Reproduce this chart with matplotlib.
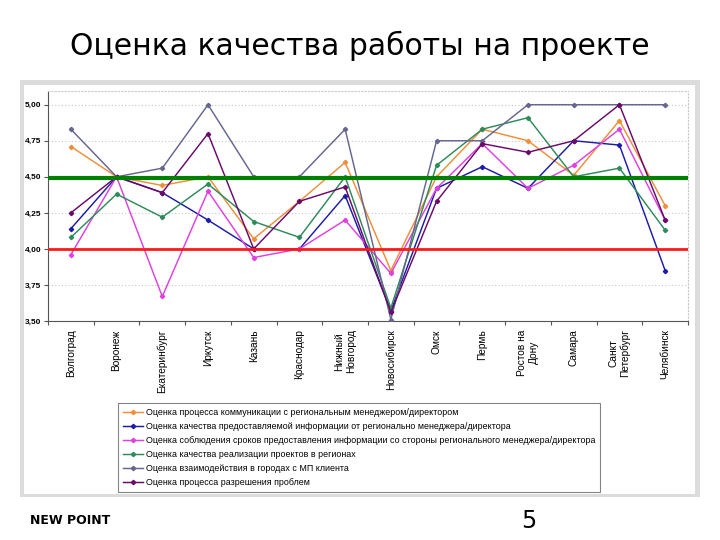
import matplotlib.pyplot as plt
from matplotlib.patches import Rectangle

plt.rcParams['font.family'] = ['Liberation Sans', 'DejaVu Sans']

cities = ["Волгоград", "Воронеж", "Екатеринбург", "Иркутск", "Казань", "Краснодар",
          "Нижный\nНовгород", "Новосибирск", "Омск", "Пермь", "Ростов на\nДону",
          "Самара", "Санкт\nПетербург", "Челябинск"]

communication = [4.71, 4.50, 4.44, 4.50, 4.07, 4.33, 4.60, 3.85, 4.50, 4.83, 4.75, 4.51, 4.89, 4.30]
info_quality = [4.14, 4.50, 4.39, 4.20, 4.00, 4.00, 4.37, 3.57, 4.42, 4.57, 4.42, 4.75, 4.72, 3.85]
deadlines = [3.96, 4.50, 3.67, 4.40, 3.94, 4.00, 4.20, 3.83, 4.42, 4.73, 4.42, 4.58, 4.83, 4.20]
projects = [4.08, 4.38, 4.22, 4.45, 4.19, 4.08, 4.50, 3.59, 4.58, 4.83, 4.91, 4.50, 4.56, 4.13]
interaction = [4.83, 4.50, 4.56, 5.00, 4.50, 4.50, 4.83, 3.51, 4.75, 4.75, 5.00, 5.00, 5.00, 5.00]
problems = [4.25, 4.50, 4.39, 4.80, 4.00, 4.33, 4.43, 3.56, 4.33, 4.73, 4.67, 4.75, 5.00, 4.20]

series_names = [
    "Оценка процесса коммуникации с региональным менеджером/директором",
    "Оценка качества предоставляемой информации от регионально менеджера/директора",
    "Оценка соблюдения сроков предоставления информации со стороны регионального менеджера/директора",
    "Оценка качества реализации проектов в регионах",
    "Оценка взаимодействия в городах с МП клиента",
    "Оценка процесса разрешения проблем",
]
series_values = [communication, info_quality, deadlines, projects, interaction, problems]
series_colors = ["#ee8f3a", "#1c1ca8", "#e040e0", "#2e8b5a", "#66668f", "#6a0a6a"]

target_level = 4.49
min_level = 4.00

yticks = [3.50, 3.75, 4.00, 4.25, 4.50, 4.75, 5.00]

fig = plt.figure(figsize=(7.2, 5.4), dpi=100)
fig.patch.set_facecolor('white')

# grey slide panel and white chart area (behind the axes)
fig.patches.append(Rectangle((20 / 720, 1 - 497 / 540), 680 / 720, 417 / 540,
                             transform=fig.transFigure, facecolor='#dcdcdc', edgecolor='none', zorder=-2))
fig.patches.append(Rectangle((24 / 720, 1 - 494 / 540), 671 / 720, 409 / 540,
                             transform=fig.transFigure, facecolor='white', edgecolor='none', zorder=-1))

fig.text(0.5, 0.915, "Оценка качества работы на проекте", ha='center', va='center',
         fontsize=21.5, family=['DejaVu Sans'], color='black')

ax = fig.add_axes([48 / 720, 1 - 321 / 540, 640 / 720, 230 / 540])
ax.set_facecolor('none')

x = list(range(len(cities)))
for name, vals, col in zip(series_names, series_values, series_colors):
    ax.plot(x, vals, color=col, linewidth=1.05, marker='D', markersize=2.2, label=name, zorder=3)

ax.axhline(target_level, color='#008000', linewidth=3, zorder=4)
ax.axhline(min_level, color='#ff1a1a', linewidth=2, zorder=4)

ax.set_xlim(-0.5, len(cities) - 0.5)
ax.set_ylim(3.5, 5.095)
ax.set_yticks(yticks)
ax.set_yticklabels([f"{v:.2f}".replace('.', ',') for v in yticks], fontsize=6, fontweight='bold')
ax.yaxis.grid(True, linestyle=(0, (1, 2)), color='#c8c8c8', linewidth=0.8)

ax.set_xticks([i + 0.5 for i in range(-1, len(cities))])
ax.set_xticklabels([])
ax.set_xticks(x, minor=True)
ax.set_xticklabels(cities, minor=True, rotation=90, fontsize=7.3, va='top', ha='center', multialignment='center')
ax.tick_params(axis='x', which='minor', length=0, pad=6)
ax.tick_params(axis='x', which='major', length=3, direction='out', color='#555555')
ax.tick_params(axis='y', length=3, direction='out', color='#555555', pad=2)

for side in ['top', 'right']:
    ax.spines[side].set_linestyle((0, (1, 2)))
    ax.spines[side].set_color('#c8c8c8')
for side in ['left', 'bottom']:
    ax.spines[side].set_color('#555555')

leg = fig.legend(loc='upper left', bbox_to_anchor=(118 / 720, 1 - 403 / 540), fontsize=6.4,
                 frameon=True, fancybox=False, edgecolor='#666666', handlelength=2.2,
                 labelspacing=0.55, borderpad=0.6, handletextpad=0.3, borderaxespad=0)
leg.get_frame().set_linewidth(0.8)

fig.text(30 / 720, 1 - 520 / 540, "NEW POINT", fontsize=9, fontweight='bold',
         family=['DejaVu Sans'], va='center', ha='left')
fig.text(529 / 720, 1 - 521 / 540, "5", fontsize=17, family=['Liberation Sans Narrow', 'DejaVu Sans'],
         va='center', ha='center')

fig.savefig("out.png", dpi=100)
